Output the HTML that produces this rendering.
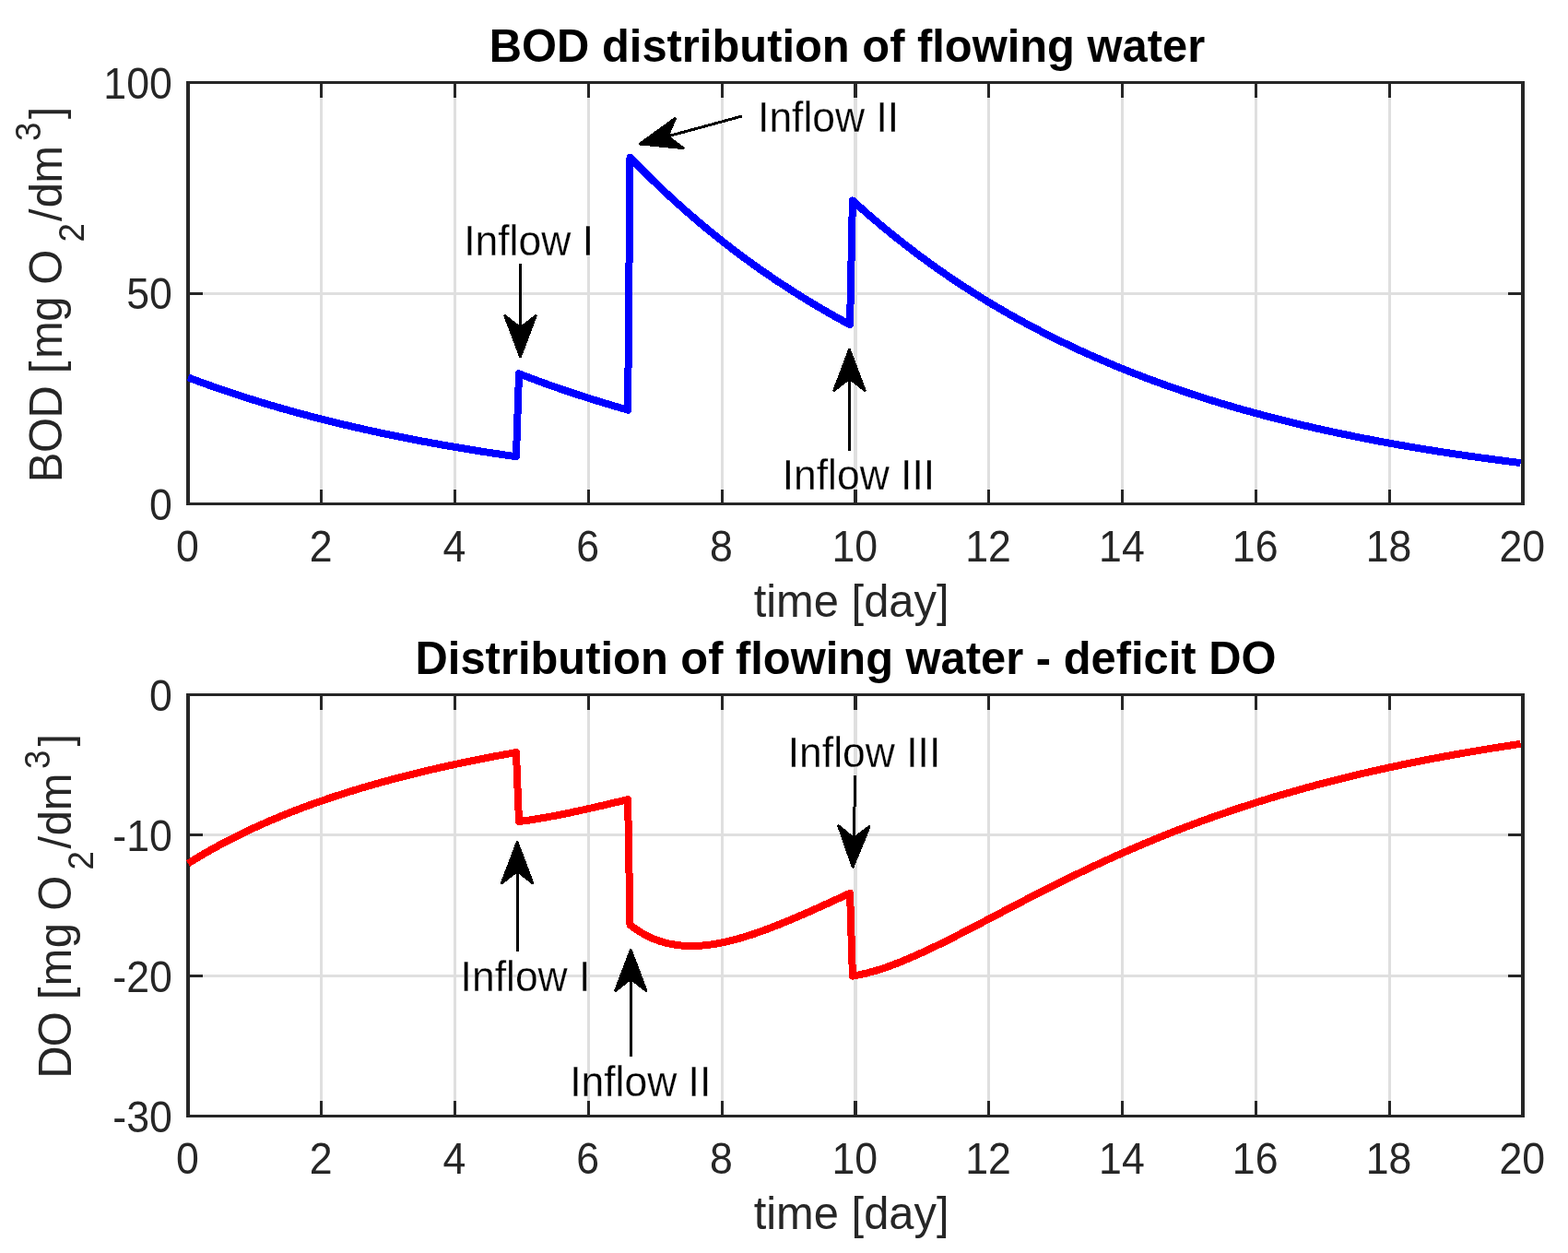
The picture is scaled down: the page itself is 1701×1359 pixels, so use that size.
<!DOCTYPE html>
<html lang="en"><head><meta charset="utf-8"><title>BOD distribution of flowing water</title>
<style>html,body{margin:0;padding:0;background:#fff;}body{width:1701px;height:1359px;overflow:hidden;}svg{display:block;font-family:'Liberation Sans',sans-serif;}</style>
</head><body>
<svg width="1701" height="1359" viewBox="0 0 1701 1359">
<rect x="0" y="0" width="1701" height="1359" fill="#fff"/>
<g id="ax1">
<g shape-rendering="crispEdges">
<rect x="347" y="91" width="3" height="454" fill="#dfdfdf"/>
<rect x="492" y="91" width="3" height="454" fill="#dfdfdf"/>
<rect x="637" y="91" width="3" height="454" fill="#dfdfdf"/>
<rect x="782" y="91" width="3" height="454" fill="#dfdfdf"/>
<rect x="926" y="91" width="4" height="454" fill="#dfdfdf"/>
<rect x="1071" y="91" width="3" height="454" fill="#dfdfdf"/>
<rect x="1216" y="91" width="3" height="454" fill="#dfdfdf"/>
<rect x="1361" y="91" width="3" height="454" fill="#dfdfdf"/>
<rect x="1506" y="91" width="3" height="454" fill="#dfdfdf"/>
<rect x="206" y="317" width="1444" height="3" fill="#dfdfdf"/>
<rect x="347" y="91" width="3" height="15" fill="#262626"/>
<rect x="347" y="531" width="3" height="14" fill="#262626"/>
<rect x="492" y="91" width="3" height="15" fill="#262626"/>
<rect x="492" y="531" width="3" height="14" fill="#262626"/>
<rect x="637" y="91" width="3" height="15" fill="#262626"/>
<rect x="637" y="531" width="3" height="14" fill="#262626"/>
<rect x="782" y="91" width="3" height="15" fill="#262626"/>
<rect x="782" y="531" width="3" height="14" fill="#262626"/>
<rect x="926" y="91" width="4" height="15" fill="#262626"/>
<rect x="926" y="531" width="4" height="14" fill="#262626"/>
<rect x="1071" y="91" width="3" height="15" fill="#262626"/>
<rect x="1071" y="531" width="3" height="14" fill="#262626"/>
<rect x="1216" y="91" width="3" height="15" fill="#262626"/>
<rect x="1216" y="531" width="3" height="14" fill="#262626"/>
<rect x="1361" y="91" width="3" height="15" fill="#262626"/>
<rect x="1361" y="531" width="3" height="14" fill="#262626"/>
<rect x="1506" y="91" width="3" height="15" fill="#262626"/>
<rect x="1506" y="531" width="3" height="14" fill="#262626"/>
<rect x="206" y="317" width="14" height="3" fill="#262626"/>
<rect x="1636" y="317" width="14" height="3" fill="#262626"/>
</g>
<g shape-rendering="crispEdges">
<rect x="202" y="88" width="1452" height="3" fill="#262626"/>
<rect x="202" y="545" width="1452" height="3" fill="#262626"/>
<rect x="202" y="88" width="4" height="460" fill="#262626"/>
<rect x="1650" y="88" width="4" height="460" fill="#262626"/>
</g>
<path d="M204.00,409.40 L207.63,410.77 L211.26,412.12 L214.90,413.46 L218.53,414.79 L222.16,416.11 L225.79,417.41 L229.42,418.70 L233.05,419.97 L236.69,421.24 L240.32,422.49 L243.95,423.73 L247.58,424.95 L251.21,426.16 L254.85,427.37 L258.48,428.55 L262.11,429.73 L265.74,430.90 L269.37,432.05 L273.00,433.19 L276.64,434.33 L280.27,435.45 L283.90,436.55 L287.53,437.65 L291.16,438.74 L294.80,439.81 L298.43,440.88 L302.06,441.93 L305.69,442.98 L309.32,444.01 L312.95,445.03 L316.59,446.05 L320.22,447.05 L323.85,448.04 L327.48,449.02 L331.11,450.00 L334.75,450.96 L338.38,451.91 L342.01,452.86 L345.64,453.79 L349.27,454.72 L352.90,455.64 L356.54,456.54 L360.17,457.44 L363.80,458.33 L367.43,459.21 L371.06,460.08 L374.70,460.94 L378.33,461.80 L381.96,462.64 L385.59,463.48 L389.22,464.31 L392.85,465.13 L396.49,465.94 L400.12,466.75 L403.75,467.54 L407.38,468.33 L411.01,469.11 L414.65,469.88 L418.28,470.65 L421.91,471.41 L425.54,472.15 L429.17,472.90 L432.80,473.63 L436.44,474.36 L440.07,475.08 L443.70,475.79 L447.33,476.50 L450.96,477.20 L454.60,477.89 L458.23,478.57 L461.86,479.25 L465.49,479.92 L469.12,480.59 L472.75,481.25 L476.39,481.90 L480.02,482.54 L483.65,483.18 L487.28,483.81 L490.91,484.44 L494.55,485.06 L498.18,485.67 L501.81,486.28 L505.44,486.88 L509.07,487.47 L512.70,488.06 L516.34,488.65 L519.97,489.22 L523.60,489.80 L527.23,490.36 L530.86,490.92 L534.50,491.48 L538.13,492.03 L541.76,492.57 L545.39,493.11 L549.02,493.64 L552.65,494.17 L556.29,494.69 L559.92,495.21 L563.03,405.29 L566.72,406.72 L570.41,408.14 L574.10,409.54 L577.79,410.93 L581.48,412.30 L585.17,413.67 L588.86,415.01 L592.55,416.35 L596.24,417.67 L599.93,418.97 L603.62,420.27 L607.31,421.55 L611.00,422.81 L614.69,424.07 L618.38,425.31 L622.07,426.54 L625.76,427.76 L629.45,428.96 L633.14,430.15 L636.83,431.33 L640.52,432.50 L644.21,433.66 L647.90,434.80 L651.59,435.93 L655.29,437.05 L658.98,438.16 L662.67,439.26 L666.36,440.35 L670.05,441.43 L673.74,442.49 L677.43,443.55 L681.12,444.59 L683.51,170.85 L687.18,174.64 L690.85,178.39 L694.52,182.10 L698.19,185.78 L701.86,189.41 L705.53,193.02 L709.20,196.58 L712.87,200.11 L716.54,203.61 L720.21,207.06 L723.88,210.49 L727.55,213.88 L731.22,217.23 L734.89,220.55 L738.56,223.84 L742.23,227.10 L745.90,230.32 L749.57,233.51 L753.24,236.67 L756.91,239.79 L760.58,242.88 L764.25,245.95 L767.92,248.98 L771.59,251.98 L775.26,254.95 L778.93,257.89 L782.60,260.80 L786.27,263.69 L789.94,266.54 L793.61,269.36 L797.28,272.16 L800.95,274.93 L804.62,277.66 L808.29,280.38 L811.96,283.06 L815.63,285.72 L819.30,288.35 L822.97,290.95 L826.64,293.53 L830.31,296.08 L833.98,298.61 L837.65,301.11 L841.32,303.58 L844.99,306.03 L848.66,308.46 L852.33,310.86 L856.00,313.24 L859.67,315.59 L863.34,317.92 L867.01,320.23 L870.68,322.51 L874.35,324.77 L878.02,327.00 L881.69,329.22 L885.36,331.41 L889.03,333.58 L892.70,335.73 L896.37,337.85 L900.04,339.96 L903.71,342.04 L907.38,344.10 L911.05,346.15 L914.72,348.17 L918.39,350.17 L922.06,352.15 L924.89,217.46 L928.51,220.74 L932.13,223.98 L935.76,227.19 L939.38,230.37 L943.00,233.52 L946.63,236.64 L950.25,239.73 L953.88,242.78 L957.50,245.81 L961.12,248.80 L964.75,251.77 L968.37,254.70 L971.99,257.61 L975.62,260.49 L979.24,263.34 L982.86,266.16 L986.49,268.95 L990.11,271.71 L993.74,274.45 L997.36,277.16 L1000.98,279.84 L1004.61,282.50 L1008.23,285.13 L1011.85,287.73 L1015.48,290.31 L1019.10,292.86 L1022.72,295.39 L1026.35,297.89 L1029.97,300.36 L1033.60,302.81 L1037.22,305.24 L1040.84,307.64 L1044.47,310.02 L1048.09,312.38 L1051.71,314.71 L1055.34,317.02 L1058.96,319.30 L1062.58,321.57 L1066.21,323.81 L1069.83,326.03 L1073.46,328.22 L1077.08,330.40 L1080.70,332.55 L1084.33,334.68 L1087.95,336.79 L1091.57,338.88 L1095.20,340.95 L1098.82,342.99 L1102.44,345.02 L1106.07,347.03 L1109.69,349.01 L1113.32,350.98 L1116.94,352.93 L1120.56,354.86 L1124.19,356.76 L1127.81,358.65 L1131.43,360.53 L1135.06,362.38 L1138.68,364.21 L1142.30,366.03 L1145.93,367.82 L1149.55,369.60 L1153.17,371.37 L1156.80,373.11 L1160.42,374.84 L1164.05,376.55 L1167.67,378.24 L1171.29,379.92 L1174.92,381.58 L1178.54,383.22 L1182.16,384.84 L1185.79,386.45 L1189.41,388.05 L1193.03,389.63 L1196.66,391.19 L1200.28,392.74 L1203.91,394.27 L1207.53,395.78 L1211.15,397.28 L1214.78,398.77 L1218.40,400.24 L1222.02,401.70 L1225.65,403.14 L1229.27,404.57 L1232.89,405.98 L1236.52,407.38 L1240.14,408.77 L1243.77,410.14 L1247.39,411.50 L1251.01,412.84 L1254.64,414.17 L1258.26,415.49 L1261.88,416.80 L1265.51,418.09 L1269.13,419.37 L1272.75,420.63 L1276.38,421.89 L1280.00,423.13 L1283.63,424.36 L1287.25,425.57 L1290.87,426.78 L1294.50,427.97 L1298.12,429.15 L1301.74,430.32 L1305.37,431.48 L1308.99,432.62 L1312.61,433.76 L1316.24,434.88 L1319.86,435.99 L1323.48,437.09 L1327.11,438.18 L1330.73,439.26 L1334.36,440.33 L1337.98,441.39 L1341.60,442.43 L1345.23,443.47 L1348.85,444.50 L1352.47,445.51 L1356.10,446.52 L1359.72,447.51 L1363.34,448.50 L1366.97,449.48 L1370.59,450.44 L1374.22,451.40 L1377.84,452.35 L1381.46,453.28 L1385.09,454.21 L1388.71,455.13 L1392.33,456.04 L1395.96,456.94 L1399.58,457.83 L1403.20,458.72 L1406.83,459.59 L1410.45,460.46 L1414.08,461.31 L1417.70,462.16 L1421.32,463.00 L1424.95,463.83 L1428.57,464.66 L1432.19,465.47 L1435.82,466.28 L1439.44,467.08 L1443.06,467.87 L1446.69,468.65 L1450.31,469.43 L1453.94,470.20 L1457.56,470.96 L1461.18,471.71 L1464.81,472.45 L1468.43,473.19 L1472.05,473.92 L1475.68,474.64 L1479.30,475.36 L1482.92,476.07 L1486.55,476.77 L1490.17,477.46 L1493.80,478.15 L1497.42,478.83 L1501.04,479.51 L1504.67,480.17 L1508.29,480.83 L1511.91,481.49 L1515.54,482.14 L1519.16,482.78 L1522.78,483.41 L1526.41,484.04 L1530.03,484.66 L1533.65,485.28 L1537.28,485.89 L1540.90,486.49 L1544.53,487.09 L1548.15,487.68 L1551.77,488.27 L1555.40,488.85 L1559.02,489.42 L1562.64,489.99 L1566.27,490.55 L1569.89,491.11 L1573.51,491.66 L1577.14,492.21 L1580.76,492.75 L1584.39,493.28 L1588.01,493.81 L1591.63,494.34 L1595.26,494.86 L1598.88,495.37 L1602.50,495.88 L1606.13,496.39 L1609.75,496.89 L1613.37,497.38 L1617.00,497.87 L1620.62,498.35 L1624.25,498.83 L1627.87,499.31 L1631.49,499.78 L1635.12,500.24 L1638.74,500.70 L1642.36,501.16 L1645.99,501.61 L1649.61,502.06" fill="none" stroke="#0000ff" stroke-width="8" stroke-linejoin="round" stroke-linecap="butt" shape-rendering="crispEdges"/>
<text transform="translate(203.30,608.70) scale(0.9250,1)" font-size="48.3" text-anchor="middle" fill="#262626">0</text>
<text transform="translate(348.10,608.70) scale(0.9250,1)" font-size="48.3" text-anchor="middle" fill="#262626">2</text>
<text transform="translate(492.90,608.70) scale(0.9250,1)" font-size="48.3" text-anchor="middle" fill="#262626">4</text>
<text transform="translate(637.70,608.70) scale(0.9250,1)" font-size="48.3" text-anchor="middle" fill="#262626">6</text>
<text transform="translate(782.50,608.70) scale(0.9250,1)" font-size="48.3" text-anchor="middle" fill="#262626">8</text>
<text transform="translate(927.30,608.70) scale(0.9250,1)" font-size="48.3" text-anchor="middle" fill="#262626">10</text>
<text transform="translate(1072.10,608.70) scale(0.9250,1)" font-size="48.3" text-anchor="middle" fill="#262626">12</text>
<text transform="translate(1216.90,608.70) scale(0.9250,1)" font-size="48.3" text-anchor="middle" fill="#262626">14</text>
<text transform="translate(1361.70,608.70) scale(0.9250,1)" font-size="48.3" text-anchor="middle" fill="#262626">16</text>
<text transform="translate(1506.50,608.70) scale(0.9250,1)" font-size="48.3" text-anchor="middle" fill="#262626">18</text>
<text transform="translate(1651.30,608.70) scale(0.9250,1)" font-size="48.3" text-anchor="middle" fill="#262626">20</text>
<text transform="translate(186.90,563.95) scale(0.9250,1)" font-size="48.3" text-anchor="end" fill="#262626">0</text>
<text transform="translate(186.90,335.45) scale(0.9250,1)" font-size="48.3" text-anchor="end" fill="#262626">50</text>
<text transform="translate(186.90,106.95) scale(0.9250,1)" font-size="48.3" text-anchor="end" fill="#262626">100</text>
</g>
<g id="ax2">
<g shape-rendering="crispEdges">
<rect x="347" y="755" width="3" height="454" fill="#dfdfdf"/>
<rect x="492" y="755" width="3" height="454" fill="#dfdfdf"/>
<rect x="637" y="755" width="3" height="454" fill="#dfdfdf"/>
<rect x="782" y="755" width="3" height="454" fill="#dfdfdf"/>
<rect x="926" y="755" width="4" height="454" fill="#dfdfdf"/>
<rect x="1071" y="755" width="3" height="454" fill="#dfdfdf"/>
<rect x="1216" y="755" width="3" height="454" fill="#dfdfdf"/>
<rect x="1361" y="755" width="3" height="454" fill="#dfdfdf"/>
<rect x="1506" y="755" width="3" height="454" fill="#dfdfdf"/>
<rect x="206" y="904" width="1444" height="3" fill="#dfdfdf"/>
<rect x="206" y="1057" width="1444" height="3" fill="#dfdfdf"/>
<rect x="347" y="755" width="3" height="15" fill="#262626"/>
<rect x="347" y="1194" width="3" height="15" fill="#262626"/>
<rect x="492" y="755" width="3" height="15" fill="#262626"/>
<rect x="492" y="1194" width="3" height="15" fill="#262626"/>
<rect x="637" y="755" width="3" height="15" fill="#262626"/>
<rect x="637" y="1194" width="3" height="15" fill="#262626"/>
<rect x="782" y="755" width="3" height="15" fill="#262626"/>
<rect x="782" y="1194" width="3" height="15" fill="#262626"/>
<rect x="926" y="755" width="4" height="15" fill="#262626"/>
<rect x="926" y="1194" width="4" height="15" fill="#262626"/>
<rect x="1071" y="755" width="3" height="15" fill="#262626"/>
<rect x="1071" y="1194" width="3" height="15" fill="#262626"/>
<rect x="1216" y="755" width="3" height="15" fill="#262626"/>
<rect x="1216" y="1194" width="3" height="15" fill="#262626"/>
<rect x="1361" y="755" width="3" height="15" fill="#262626"/>
<rect x="1361" y="1194" width="3" height="15" fill="#262626"/>
<rect x="1506" y="755" width="3" height="15" fill="#262626"/>
<rect x="1506" y="1194" width="3" height="15" fill="#262626"/>
<rect x="206" y="904" width="14" height="3" fill="#262626"/>
<rect x="1636" y="904" width="14" height="3" fill="#262626"/>
<rect x="206" y="1057" width="14" height="3" fill="#262626"/>
<rect x="1636" y="1057" width="14" height="3" fill="#262626"/>
</g>
<g shape-rendering="crispEdges">
<rect x="202" y="752" width="1452" height="3" fill="#262626"/>
<rect x="202" y="1209" width="1452" height="3" fill="#262626"/>
<rect x="202" y="752" width="4" height="460" fill="#262626"/>
<rect x="1650" y="752" width="4" height="460" fill="#262626"/>
</g>
<path d="M204.00,936.60 L207.63,934.32 L211.26,932.08 L214.90,929.87 L218.53,927.70 L222.16,925.57 L225.79,923.48 L229.42,921.42 L233.05,919.39 L236.69,917.40 L240.32,915.44 L243.95,913.51 L247.58,911.61 L251.21,909.74 L254.85,907.90 L258.48,906.09 L262.11,904.31 L265.74,902.55 L269.37,900.82 L273.00,899.12 L276.64,897.44 L280.27,895.79 L283.90,894.16 L287.53,892.56 L291.16,890.98 L294.80,889.42 L298.43,887.89 L302.06,886.38 L305.69,884.88 L309.32,883.41 L312.95,881.96 L316.59,880.53 L320.22,879.12 L323.85,877.73 L327.48,876.36 L331.11,875.01 L334.75,873.67 L338.38,872.36 L342.01,871.06 L345.64,869.77 L349.27,868.51 L352.90,867.26 L356.54,866.02 L360.17,864.81 L363.80,863.61 L367.43,862.42 L371.06,861.25 L374.70,860.09 L378.33,858.95 L381.96,857.82 L385.59,856.71 L389.22,855.61 L392.85,854.52 L396.49,853.45 L400.12,852.39 L403.75,851.34 L407.38,850.31 L411.01,849.29 L414.65,848.28 L418.28,847.28 L421.91,846.29 L425.54,845.32 L429.17,844.36 L432.80,843.41 L436.44,842.47 L440.07,841.54 L443.70,840.62 L447.33,839.71 L450.96,838.81 L454.60,837.93 L458.23,837.05 L461.86,836.18 L465.49,835.33 L469.12,834.48 L472.75,833.64 L476.39,832.81 L480.02,831.99 L483.65,831.19 L487.28,830.38 L490.91,829.59 L494.55,828.81 L498.18,828.04 L501.81,827.27 L505.44,826.51 L509.07,825.76 L512.70,825.02 L516.34,824.29 L519.97,823.57 L523.60,822.85 L527.23,822.14 L530.86,821.44 L534.50,820.75 L538.13,820.06 L541.76,819.38 L545.39,818.71 L549.02,818.04 L552.65,817.39 L556.29,816.74 L559.92,816.09 L563.03,891.06 L566.72,890.58 L570.41,890.08 L574.10,889.54 L577.79,888.98 L581.48,888.40 L585.17,887.79 L588.86,887.16 L592.55,886.51 L596.24,885.84 L599.93,885.15 L603.62,884.44 L607.31,883.71 L611.00,882.98 L614.69,882.22 L618.38,881.45 L622.07,880.68 L625.76,879.88 L629.45,879.08 L633.14,878.27 L636.83,877.45 L640.52,876.62 L644.21,875.79 L647.90,874.94 L651.59,874.09 L655.29,873.24 L658.98,872.38 L662.67,871.51 L666.36,870.64 L670.05,869.77 L673.74,868.89 L677.43,868.01 L681.12,867.13 L683.51,1003.17 L687.18,1005.96 L690.85,1008.52 L694.52,1010.87 L698.19,1013.01 L701.86,1014.96 L705.53,1016.73 L709.20,1018.32 L712.87,1019.73 L716.54,1020.99 L720.21,1022.08 L723.88,1023.03 L727.55,1023.84 L731.22,1024.50 L734.89,1025.04 L738.56,1025.46 L742.23,1025.75 L745.90,1025.93 L749.57,1026.00 L753.24,1025.97 L756.91,1025.84 L760.58,1025.62 L764.25,1025.31 L767.92,1024.91 L771.59,1024.43 L775.26,1023.87 L778.93,1023.24 L782.60,1022.54 L786.27,1021.77 L789.94,1020.94 L793.61,1020.05 L797.28,1019.10 L800.95,1018.10 L804.62,1017.05 L808.29,1015.95 L811.96,1014.80 L815.63,1013.61 L819.30,1012.38 L822.97,1011.11 L826.64,1009.81 L830.31,1008.47 L833.98,1007.10 L837.65,1005.70 L841.32,1004.27 L844.99,1002.82 L848.66,1001.34 L852.33,999.83 L856.00,998.31 L859.67,996.77 L863.34,995.21 L867.01,993.63 L870.68,992.04 L874.35,990.43 L878.02,988.81 L881.69,987.18 L885.36,985.53 L889.03,983.88 L892.70,982.22 L896.37,980.55 L900.04,978.88 L903.71,977.20 L907.38,975.51 L911.05,973.83 L914.72,972.14 L918.39,970.44 L922.06,968.75 L924.89,1058.62 L928.51,1058.01 L932.13,1057.31 L935.76,1056.53 L939.38,1055.68 L943.00,1054.76 L946.63,1053.77 L950.25,1052.71 L953.88,1051.60 L957.50,1050.42 L961.12,1049.19 L964.75,1047.91 L968.37,1046.59 L971.99,1045.21 L975.62,1043.79 L979.24,1042.34 L982.86,1040.84 L986.49,1039.31 L990.11,1037.74 L993.74,1036.14 L997.36,1034.52 L1000.98,1032.86 L1004.61,1031.18 L1008.23,1029.48 L1011.85,1027.75 L1015.48,1026.00 L1019.10,1024.24 L1022.72,1022.46 L1026.35,1020.66 L1029.97,1018.84 L1033.60,1017.02 L1037.22,1015.18 L1040.84,1013.33 L1044.47,1011.47 L1048.09,1009.60 L1051.71,1007.73 L1055.34,1005.85 L1058.96,1003.96 L1062.58,1002.07 L1066.21,1000.18 L1069.83,998.28 L1073.46,996.38 L1077.08,994.49 L1080.70,992.59 L1084.33,990.69 L1087.95,988.79 L1091.57,986.89 L1095.20,985.00 L1098.82,983.11 L1102.44,981.22 L1106.07,979.34 L1109.69,977.46 L1113.32,975.59 L1116.94,973.72 L1120.56,971.86 L1124.19,970.00 L1127.81,968.16 L1131.43,966.31 L1135.06,964.48 L1138.68,962.65 L1142.30,960.83 L1145.93,959.02 L1149.55,957.22 L1153.17,955.43 L1156.80,953.65 L1160.42,951.87 L1164.05,950.11 L1167.67,948.35 L1171.29,946.61 L1174.92,944.87 L1178.54,943.15 L1182.16,941.44 L1185.79,939.73 L1189.41,938.04 L1193.03,936.36 L1196.66,934.69 L1200.28,933.03 L1203.91,931.38 L1207.53,929.74 L1211.15,928.12 L1214.78,926.50 L1218.40,924.90 L1222.02,923.31 L1225.65,921.73 L1229.27,920.16 L1232.89,918.61 L1236.52,917.06 L1240.14,915.53 L1243.77,914.01 L1247.39,912.50 L1251.01,911.00 L1254.64,909.51 L1258.26,908.04 L1261.88,906.58 L1265.51,905.13 L1269.13,903.69 L1272.75,902.26 L1276.38,900.84 L1280.00,899.44 L1283.63,898.05 L1287.25,896.67 L1290.87,895.30 L1294.50,893.94 L1298.12,892.59 L1301.74,891.26 L1305.37,889.94 L1308.99,888.62 L1312.61,887.32 L1316.24,886.03 L1319.86,884.76 L1323.48,883.49 L1327.11,882.23 L1330.73,880.99 L1334.36,879.76 L1337.98,878.53 L1341.60,877.32 L1345.23,876.12 L1348.85,874.93 L1352.47,873.75 L1356.10,872.58 L1359.72,871.42 L1363.34,870.28 L1366.97,869.14 L1370.59,868.01 L1374.22,866.89 L1377.84,865.79 L1381.46,864.69 L1385.09,863.61 L1388.71,862.53 L1392.33,861.46 L1395.96,860.41 L1399.58,859.36 L1403.20,858.32 L1406.83,857.30 L1410.45,856.28 L1414.08,855.27 L1417.70,854.27 L1421.32,853.29 L1424.95,852.31 L1428.57,851.34 L1432.19,850.37 L1435.82,849.42 L1439.44,848.48 L1443.06,847.54 L1446.69,846.62 L1450.31,845.70 L1453.94,844.79 L1457.56,843.90 L1461.18,843.00 L1464.81,842.12 L1468.43,841.25 L1472.05,840.38 L1475.68,839.53 L1479.30,838.68 L1482.92,837.84 L1486.55,837.00 L1490.17,836.18 L1493.80,835.36 L1497.42,834.55 L1501.04,833.75 L1504.67,832.96 L1508.29,832.18 L1511.91,831.40 L1515.54,830.63 L1519.16,829.86 L1522.78,829.11 L1526.41,828.36 L1530.03,827.62 L1533.65,826.89 L1537.28,826.16 L1540.90,825.44 L1544.53,824.73 L1548.15,824.02 L1551.77,823.32 L1555.40,822.63 L1559.02,821.95 L1562.64,821.27 L1566.27,820.60 L1569.89,819.93 L1573.51,819.27 L1577.14,818.62 L1580.76,817.98 L1584.39,817.34 L1588.01,816.70 L1591.63,816.08 L1595.26,815.45 L1598.88,814.84 L1602.50,814.23 L1606.13,813.63 L1609.75,813.03 L1613.37,812.44 L1617.00,811.86 L1620.62,811.28 L1624.25,810.70 L1627.87,810.13 L1631.49,809.57 L1635.12,809.02 L1638.74,808.46 L1642.36,807.92 L1645.99,807.38 L1649.61,806.84" fill="none" stroke="#ff0000" stroke-width="8" stroke-linejoin="round" stroke-linecap="butt" shape-rendering="crispEdges"/>
<text transform="translate(203.30,1272.70) scale(0.9250,1)" font-size="48.3" text-anchor="middle" fill="#262626">0</text>
<text transform="translate(348.10,1272.70) scale(0.9250,1)" font-size="48.3" text-anchor="middle" fill="#262626">2</text>
<text transform="translate(492.90,1272.70) scale(0.9250,1)" font-size="48.3" text-anchor="middle" fill="#262626">4</text>
<text transform="translate(637.70,1272.70) scale(0.9250,1)" font-size="48.3" text-anchor="middle" fill="#262626">6</text>
<text transform="translate(782.50,1272.70) scale(0.9250,1)" font-size="48.3" text-anchor="middle" fill="#262626">8</text>
<text transform="translate(927.30,1272.70) scale(0.9250,1)" font-size="48.3" text-anchor="middle" fill="#262626">10</text>
<text transform="translate(1072.10,1272.70) scale(0.9250,1)" font-size="48.3" text-anchor="middle" fill="#262626">12</text>
<text transform="translate(1216.90,1272.70) scale(0.9250,1)" font-size="48.3" text-anchor="middle" fill="#262626">14</text>
<text transform="translate(1361.70,1272.70) scale(0.9250,1)" font-size="48.3" text-anchor="middle" fill="#262626">16</text>
<text transform="translate(1506.50,1272.70) scale(0.9250,1)" font-size="48.3" text-anchor="middle" fill="#262626">18</text>
<text transform="translate(1651.30,1272.70) scale(0.9250,1)" font-size="48.3" text-anchor="middle" fill="#262626">20</text>
<text transform="translate(186.90,770.95) scale(0.9250,1)" font-size="48.3" text-anchor="end" fill="#262626">0</text>
<text transform="translate(186.90,923.28) scale(0.9250,1)" font-size="48.3" text-anchor="end" fill="#262626">-10</text>
<text transform="translate(186.90,1075.62) scale(0.9250,1)" font-size="48.3" text-anchor="end" fill="#262626">-20</text>
<text transform="translate(186.90,1227.95) scale(0.9250,1)" font-size="48.3" text-anchor="end" fill="#262626">-30</text>
</g>
<text transform="translate(919.00,66.80) scale(0.9660,1)" font-size="50.6" font-weight="bold" text-anchor="middle" fill="#000">BOD distribution of flowing water</text>
<text transform="translate(917.50,730.60) scale(0.9660,1)" font-size="50.6" font-weight="bold" text-anchor="middle" fill="#000">Distribution of flowing water - deficit DO</text>
<text transform="translate(923.60,668.60) scale(0.9660,1)" font-size="50.6" text-anchor="middle" fill="#262626">time [day]</text>
<text transform="translate(923.60,1332.60) scale(0.9660,1)" font-size="50.6" text-anchor="middle" fill="#262626">time [day]</text>
<text transform="translate(66.9,518.8) rotate(-90) scale(0.966,1)" font-size="50.6" fill="#262626"><tspan x="-4.66 28.73 67.72 92.67 117.62 134.35 176.12 196.77 217.42" y="0">BOD [mg O</tspan><tspan font-size="38" x="265.22" y="24">2</tspan><tspan x="288.54 303.93 331.40" y="0">/dm</tspan><tspan font-size="38" x="378.76" y="-23">3</tspan><tspan x="403.22" y="0">]</tspan></text>
<text transform="translate(76.8,1165.9) rotate(-90) scale(0.966,1)" font-size="50.6" fill="#262626"><tspan x="-4.04 31.81 58.13 84.44 99.82 142.42 163.44 184.45" y="0">DO [mg O</tspan><tspan font-size="38" x="230.18" y="24">2</tspan><tspan x="254.12 268.69 296.67" y="0">/dm</tspan><tspan font-size="38" x="343.51" y="-23">3</tspan><tspan x="368.90" y="0">]</tspan></text>
<line x1="564.50" y1="286.00" x2="564.50" y2="357.70" stroke="#000" stroke-width="3.0" shape-rendering="crispEdges"/><polygon points="564.50,386.50 547.90,342.70 564.50,355.70 581.10,342.70" fill="#000" stroke="#000" stroke-width="3" stroke-linejoin="round" shape-rendering="crispEdges"/>
<text transform="translate(573.60,277.20) scale(0.9660,1)" font-size="46" text-anchor="middle" fill="#000" stroke="#fff" stroke-width="0.25" paint-order="fill stroke">Inflow I</text>
<line x1="805.00" y1="126.00" x2="722.24" y2="148.46" stroke="#000" stroke-width="3.0" shape-rendering="crispEdges"/><polygon points="694.45,156.01 732.37,128.51 724.17,147.94 741.07,160.55" fill="#000" stroke="#000" stroke-width="3" stroke-linejoin="round" shape-rendering="crispEdges"/>
<text transform="translate(898.60,143.00) scale(0.9660,1)" font-size="46" text-anchor="middle" fill="#000" stroke="#fff" stroke-width="0.25" paint-order="fill stroke">Inflow II</text>
<line x1="921.50" y1="488.60" x2="921.50" y2="408.30" stroke="#000" stroke-width="3.0" shape-rendering="crispEdges"/><polygon points="921.50,379.50 938.10,423.30 921.50,410.30 904.90,423.30" fill="#000" stroke="#000" stroke-width="3" stroke-linejoin="round" shape-rendering="crispEdges"/>
<text transform="translate(931.40,531.00) scale(0.9660,1)" font-size="46" text-anchor="middle" fill="#000" stroke="#fff" stroke-width="0.25" paint-order="fill stroke">Inflow III</text>
<line x1="561.10" y1="1031.70" x2="561.10" y2="942.60" stroke="#000" stroke-width="3.0" shape-rendering="crispEdges"/><polygon points="561.10,913.80 577.70,957.60 561.10,944.60 544.50,957.60" fill="#000" stroke="#000" stroke-width="3" stroke-linejoin="round" shape-rendering="crispEdges"/>
<text transform="translate(570.00,1074.70) scale(0.9660,1)" font-size="46" text-anchor="middle" fill="#000" stroke="#fff" stroke-width="0.25" paint-order="fill stroke">Inflow I</text>
<line x1="684.30" y1="1145.70" x2="684.30" y2="1059.40" stroke="#000" stroke-width="3.0" shape-rendering="crispEdges"/><polygon points="684.30,1030.60 700.90,1074.40 684.30,1061.40 667.70,1074.40" fill="#000" stroke="#000" stroke-width="3" stroke-linejoin="round" shape-rendering="crispEdges"/>
<text transform="translate(694.70,1188.80) scale(0.9660,1)" font-size="46" text-anchor="middle" fill="#000" stroke="#fff" stroke-width="0.25" paint-order="fill stroke">Inflow II</text>
<line x1="928.00" y1="841.20" x2="925.97" y2="911.31" stroke="#000" stroke-width="3.0" shape-rendering="crispEdges"/><polygon points="925.14,940.10 909.81,895.84 926.03,909.31 943.00,896.80" fill="#000" stroke="#000" stroke-width="3" stroke-linejoin="round" shape-rendering="crispEdges"/>
<text transform="translate(937.50,831.90) scale(0.9660,1)" font-size="46" text-anchor="middle" fill="#000" stroke="#fff" stroke-width="0.25" paint-order="fill stroke">Inflow III</text>
</svg></body></html>
